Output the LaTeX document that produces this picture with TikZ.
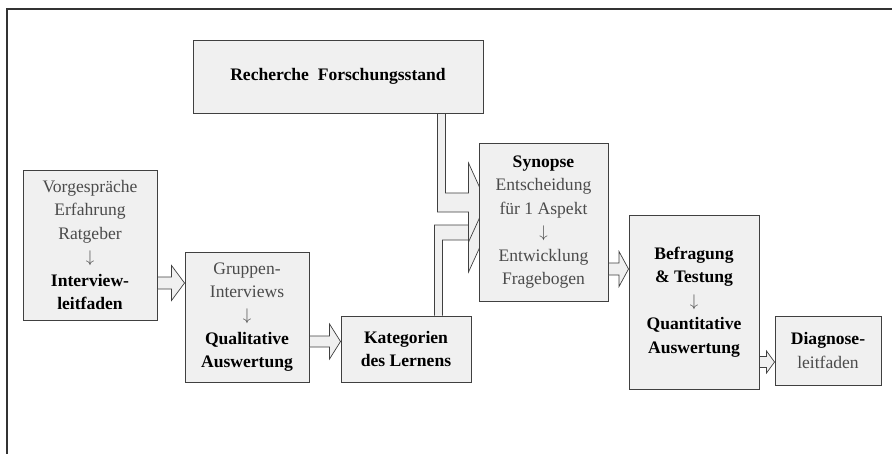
\documentclass[tikz,border=0pt]{standalone}
\usepackage{fontspec}
\setmainfont{Liberation Serif}
\usetikzlibrary{calc}
\usetikzlibrary{backgrounds}
\definecolor{boxfill}{RGB}{240,240,240}
\definecolor{boxline}{RGB}{64,64,64}
\definecolor{txtgray}{RGB}{75,75,75}
\newcommand{\kw}[1]{\textcolor{black}{\textbf{#1}}}
\newcommand{\dn}{$\downarrow$}
\tikzset{
  box/.style={draw=boxline, fill=boxfill, line width=0.8pt, inner sep=0pt,
    align=center, text=txtgray, font=\fontsize{15}{20}\selectfont},
  fat/.style={draw=boxline, fill=boxfill, line width=0.6pt, line join=miter},
  frame/.style={draw=black!80, line width=1.6pt}
}
\newcommand{\fatarrow}[6]{%
  \coordinate (fa1) at (#1.east |- 0,#3);
  \coordinate (fa2) at (#2.west |- 0,#3);
  \draw[fat] ($(fa1)+(0,-#4)$) -- ($(fa2)+(-#6,-#4)$) -- ($(fa2)+(-#6,-#5)$)
    -- (fa2) -- ($(fa2)+(-#6,#5)$) -- ($(fa2)+(-#6,#4)$) -- ($(fa1)+(0,#4)$) -- cycle;
}
\begin{document}
\begin{tikzpicture}[x=0.03cm, y=-0.03cm]
  \useasboundingbox (0,0) rectangle (892,454);
  \draw[frame] (7,454) -- (7,9) -- (892,9);

  \node[box, minimum width=8.70cm, minimum height=2.19cm] (rech) at (338,76.5)
    {\kw{Recherche\ \ Forschungsstand}};
  \node[box, minimum width=4.02cm, minimum height=4.50cm] (vorg) at (90,245)
    {Vorgespräche\\Erfahrung\\Ratgeber\\\dn\\\kw{Interview-}\\\kw{leitfaden}};
  \node[box, minimum width=3.72cm, minimum height=3.90cm] (grup) at (247,317)
    {Gruppen-\\Interviews\\\dn\\\kw{Qualitative}\\\kw{Auswertung}};
  \node[box, minimum width=3.90cm, minimum height=1.98cm] (kat) at (406,349)
    {\kw{Kategorien}\\\kw{des Lernens}};
  \node[box, minimum width=3.87cm, minimum height=4.74cm] (syn) at (543.5,222)
    {\kw{Synopse}\\Entscheidung\\für 1 Aspekt\\\dn\\Entwicklung\\Fragebogen};
  \node[box, minimum width=3.90cm, minimum height=5.22cm] (bef) at (694,302)
    {\kw{Befragung}\\\kw{\& Testung}\\\dn\\\kw{Quantitative}\\\kw{Auswertung}};
  \node[box, minimum width=3.18cm, minimum height=2.07cm] (diag) at (828,350.5)
    {\kw{Diagnose-}\\leitfaden};

  \fatarrow{vorg}{grup}{283}{6}{17.5}{13}
  \fatarrow{grup}{kat}{341.5}{5.5}{17.5}{11}
  \fatarrow{syn}{bef}{269}{6}{17.5}{9.5}
  \fatarrow{bef}{diag}{362}{5.5}{11}{8}

  \begin{scope}[on background layer]
    \path (rech.south east) ++(-46,0) coordinate (r1) ++(8,0) coordinate (r2);
    \path (kat.north west) ++(94,0) coordinate (k1) ++(8,0) coordinate (k2);
    \path (syn.west) ++(-10,0) coordinate (s1) ++(18,0) coordinate (s2);
    \draw[fat] (k1) -- (k1 |- 0,225) -- (s1 |- 0,225) -- (s1 |- 0,193)
      -- (s2 |- 0,232.5) -- (s1 |- 0,272) -- (s1 |- 0,240) -- (k2 |- 0,240) -- (k2);
    \draw[fat] (r1) -- (r1 |- 0,212) -- (s1 |- 0,212) -- (s1 |- 0,242)
      -- (s2 |- 0,202.5) -- (s1 |- 0,163) -- (s1 |- 0,193) -- (r2 |- 0,193) -- (r2);
  \end{scope}
\end{tikzpicture}
\end{document}
